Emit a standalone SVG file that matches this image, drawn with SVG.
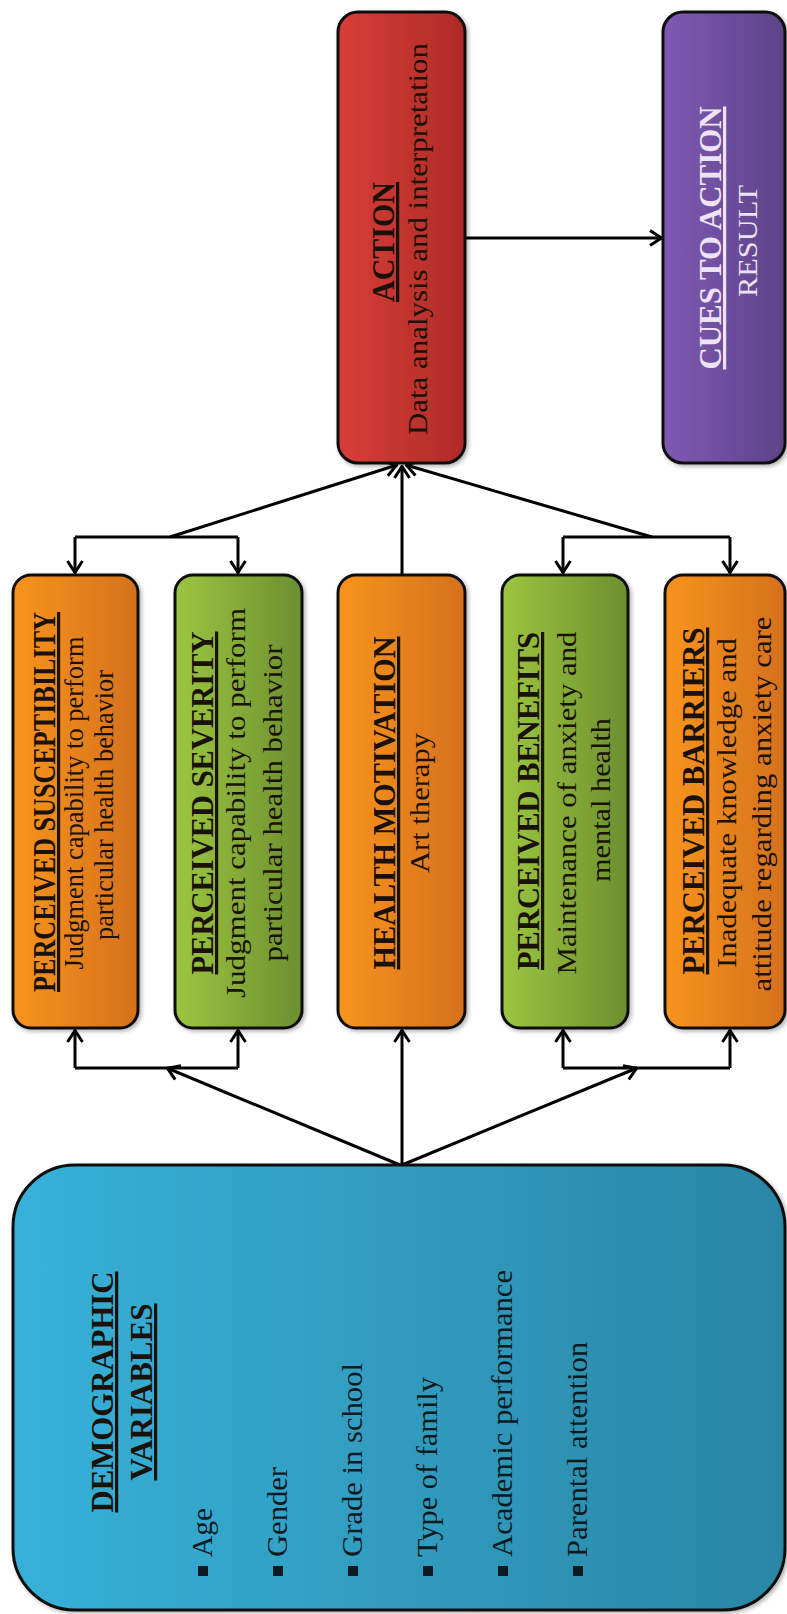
<svg xmlns="http://www.w3.org/2000/svg" width="787" height="1614" viewBox="0 0 787 1614">
<style>
.box{stroke:#111;stroke-width:3}
.t{font-family:"Liberation Serif","Times New Roman",serif;font-weight:bold;font-size:32px;fill:#1a1208;text-anchor:middle;text-decoration:underline}
.b{font-family:"Liberation Serif","Times New Roman",serif;font-size:28px;fill:#1a1208;text-anchor:middle}
.l{font-family:"Liberation Serif","Times New Roman",serif;font-size:30px;fill:#0d1a22}
.w{fill:#ece4f4}
.c{fill:none;stroke:#000;stroke-width:3}
.a{marker-end:url(#ah)}
.bul{fill:#0d1a22}
</style>
<defs>
<linearGradient id="gO" x1="0" y1="0" x2="1" y2="0"><stop offset="0" stop-color="#f8941f"/><stop offset="1" stop-color="#d5711e"/></linearGradient>
<linearGradient id="gG" x1="0" y1="0" x2="1" y2="0"><stop offset="0" stop-color="#9cc640"/><stop offset="1" stop-color="#6c8f2f"/></linearGradient>
<linearGradient id="gR" x1="0" y1="0" x2="1" y2="0"><stop offset="0" stop-color="#d83e38"/><stop offset="1" stop-color="#ae2b27"/></linearGradient>
<linearGradient id="gP" x1="0" y1="0" x2="1" y2="0"><stop offset="0" stop-color="#8059b3"/><stop offset="1" stop-color="#5c4387"/></linearGradient>
<linearGradient id="gB" x1="0" y1="0" x2="1" y2="0"><stop offset="0" stop-color="#37b1d9"/><stop offset="1" stop-color="#2986a4"/></linearGradient>
<filter id="sh" x="-10%" y="-10%" width="120%" height="120%"><feDropShadow dx="2" dy="2" stdDeviation="2" flood-color="#000" flood-opacity="0.3"/></filter>
<marker id="ah" viewBox="0 0 14 18" refX="13" refY="9" markerWidth="14" markerHeight="18" markerUnits="userSpaceOnUse" orient="auto"><path d="M1,1.5 L12.5,9 L1,16.5" fill="none" stroke="#000" stroke-width="3"/></marker>
</defs>

<g id="connectors">
<path class="c" d="M75,537 H238"/>
<path class="c a" d="M75,537 V573"/>
<path class="c a" d="M238,537 V573"/>
<path class="c" d="M563,537 H730"/>
<path class="c a" d="M563,537 V573"/>
<path class="c a" d="M730,537 V573"/>
<path class="c a" d="M170,537 L397,465"/>
<path class="c a" d="M402,575 V466"/>
<path class="c a" d="M652,537 L406,465"/>
<path class="c" d="M75,1068 H238"/>
<path class="c a" d="M75,1068 V1030"/>
<path class="c a" d="M238,1068 V1030"/>
<path class="c" d="M563,1068 H730"/>
<path class="c a" d="M563,1068 V1030"/>
<path class="c a" d="M730,1068 V1030"/>
<path class="c a" d="M400,1165 L167,1068"/>
<path class="c a" d="M402,1165 V1030"/>
<path class="c a" d="M402,1165 L637,1068"/>
<path class="c a" d="M466,238 H662"/>
</g>

<g id="action">
<rect class="box" x="338" y="12" width="127" height="451" rx="20" fill="url(#gR)" filter="url(#sh)"/>
<text class="t" transform="translate(394,242) rotate(-90)" textLength="120" lengthAdjust="spacingAndGlyphs">ACTION</text>
<text class="b" transform="translate(427,239) rotate(-90)" textLength="392" lengthAdjust="spacingAndGlyphs">Data analysis  and interpretation</text>
</g>

<g id="cues">
<rect class="box" x="663" y="12" width="122" height="451" rx="20" fill="url(#gP)" filter="url(#sh)"/>
<text class="t w" transform="translate(721,238) rotate(-90)" textLength="263" lengthAdjust="spacingAndGlyphs">CUES TO ACTION</text>
<text class="b w" transform="translate(757,241) rotate(-90)" textLength="112" lengthAdjust="spacingAndGlyphs">RESULT</text>
</g>

<g id="susceptibility">
<rect class="box" x="13" y="575" width="125" height="453" rx="18" fill="url(#gO)" filter="url(#sh)"/>
<text class="t" transform="translate(55,802) rotate(-90)" textLength="380" lengthAdjust="spacingAndGlyphs">PERCEIVED SUSCEPTIBILITY</text>
<text class="b" transform="translate(83,803) rotate(-90)" textLength="333" lengthAdjust="spacingAndGlyphs">Judgment capability to perform</text>
<text class="b" transform="translate(113,805) rotate(-90)" textLength="270" lengthAdjust="spacingAndGlyphs">particular health behavior</text>
</g>

<g id="severity">
<rect class="box" x="175" y="575" width="127" height="453" rx="18" fill="url(#gG)" filter="url(#sh)"/>
<text class="t" transform="translate(213,803) rotate(-90)" textLength="343" lengthAdjust="spacingAndGlyphs">PERCEIVED SEVERITY</text>
<text class="b" transform="translate(245,803) rotate(-90)" textLength="390" lengthAdjust="spacingAndGlyphs">Judgment capability to perform</text>
<text class="b" transform="translate(282,803) rotate(-90)" textLength="317" lengthAdjust="spacingAndGlyphs">particular health behavior</text>
</g>

<g id="motivation">
<rect class="box" x="338" y="575" width="127" height="453" rx="18" fill="url(#gO)" filter="url(#sh)"/>
<text class="t" transform="translate(395,803) rotate(-90)" textLength="333" lengthAdjust="spacingAndGlyphs">HEALTH MOTIVATION</text>
<text class="b" transform="translate(429,803) rotate(-90)" textLength="140" lengthAdjust="spacingAndGlyphs">Art therapy</text>
</g>

<g id="benefits">
<rect class="box" x="502" y="575" width="126" height="453" rx="18" fill="url(#gG)" filter="url(#sh)"/>
<text class="t" transform="translate(539,801) rotate(-90)" textLength="338" lengthAdjust="spacingAndGlyphs">PERCEIVED BENEFITS</text>
<text class="b" transform="translate(576,803) rotate(-90)" textLength="343" lengthAdjust="spacingAndGlyphs">Maintenance of anxiety and</text>
<text class="b" transform="translate(610,800) rotate(-90)" textLength="164" lengthAdjust="spacingAndGlyphs">mental health</text>
</g>

<g id="barriers">
<rect class="box" x="665" y="575" width="120" height="453" rx="18" fill="url(#gO)" filter="url(#sh)"/>
<text class="t" transform="translate(704,801) rotate(-90)" textLength="347" lengthAdjust="spacingAndGlyphs">PERCEIVED BARRIERS</text>
<text class="b" transform="translate(736,803) rotate(-90)" textLength="330" lengthAdjust="spacingAndGlyphs">Inadequate knowledge and</text>
<text class="b" transform="translate(771,804) rotate(-90)" textLength="375" lengthAdjust="spacingAndGlyphs">attitude regarding anxiety care</text>
</g>

<g id="demographic">
<rect class="box" x="13" y="1165" width="772" height="445" rx="62" fill="url(#gB)" filter="url(#sh)"/>
<text class="t" fill="#0d1a22" transform="translate(113,1392) rotate(-90)" textLength="241" lengthAdjust="spacingAndGlyphs">DEMOGRAPHIC</text>
<text class="t" fill="#0d1a22" transform="translate(152,1392) rotate(-90)" textLength="177" lengthAdjust="spacingAndGlyphs">VARIABLES</text>
<rect class="bul" x="198" y="1566" width="10" height="10"/>
<text class="l" transform="translate(212,1557) rotate(-90)" textLength="49" lengthAdjust="spacingAndGlyphs">Age</text>
<rect class="bul" x="273" y="1566" width="10" height="10"/>
<text class="l" transform="translate(287,1557) rotate(-90)" textLength="90" lengthAdjust="spacingAndGlyphs">Gender</text>
<rect class="bul" x="348" y="1566" width="10" height="10"/>
<text class="l" transform="translate(362,1557) rotate(-90)" textLength="194" lengthAdjust="spacingAndGlyphs">Grade in school</text>
<rect class="bul" x="423" y="1566" width="10" height="10"/>
<text class="l" transform="translate(437,1557) rotate(-90)" textLength="180" lengthAdjust="spacingAndGlyphs">Type of family</text>
<rect class="bul" x="498" y="1566" width="10" height="10"/>
<text class="l" transform="translate(512,1557) rotate(-90)" textLength="287" lengthAdjust="spacingAndGlyphs">Academic performance</text>
<rect class="bul" x="573" y="1566" width="10" height="10"/>
<text class="l" transform="translate(587,1557) rotate(-90)" textLength="215" lengthAdjust="spacingAndGlyphs">Parental attention</text>
</g>
</svg>
